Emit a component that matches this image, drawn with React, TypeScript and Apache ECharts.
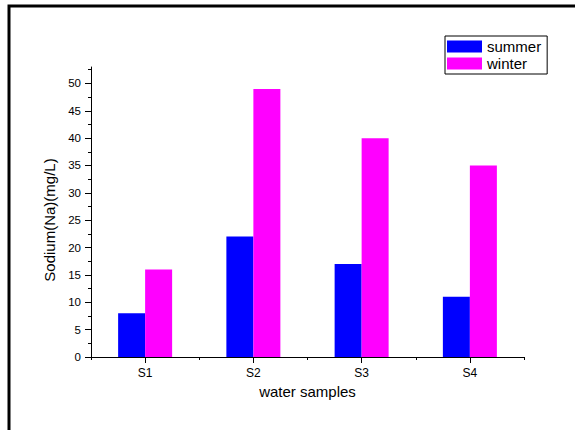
import React, { useEffect, useRef } from "react";
import * as echarts from "echarts";

const categories = ["S1", "S2", "S3", "S4"];
const summer = [8, 22, 17, 11];
const winter = [16, 49, 40, 35];
const majorTicks = [0, 5, 10, 15, 20, 25, 30, 35, 40, 45, 50];
const minorTicks = [2.5, 7.5, 12.5, 17.5, 22.5, 27.5, 32.5, 37.5, 42.5, 47.5, 52.5];

const FONT = "Liberation Sans";

export default function App() {
  const ref = useRef<HTMLDivElement>(null);
  useEffect(() => {
    if (!ref.current) return;
    const chart = echarts.init(ref.current, undefined, { renderer: "svg" });
    const axisLine = { show: true, lineStyle: { color: "#000", width: 1 } };
    chart.setOption({
      animation: false,
      backgroundColor: "#fff",
      textStyle: { fontFamily: FONT },
      graphic: [
        {
          type: "rect",
          shape: { x: 9, y: 6, width: 620, height: 500 },
          style: { fill: "none", stroke: "#000", lineWidth: 3 },
          silent: true,
        },
      ],
      legend: {
        orient: "vertical",
        left: 445,
        top: 36,
        padding: [3, 6, 3, 2],
        itemGap: 2,
        itemWidth: 35,
        itemHeight: 12,
        borderColor: "#000",
        borderWidth: 1,
        borderRadius: 0,
        icon: "rect",
        textStyle: { fontFamily: FONT, fontSize: 15, color: "#000" },
        data: ["summer", "winter"],
      },
      grid: { left: 91, right: 51, top: 67, bottom: 73 },
      xAxis: [
        {
          type: "category",
          data: categories,
          axisLine,
          axisTick: { show: true, alignWithLabel: true, length: 6, lineStyle: { color: "#000" } },
          axisLabel: { fontFamily: FONT, fontSize: 12, color: "#000", margin: 10 },
          name: "water samples",
          nameLocation: "middle",
          nameGap: 27,
          nameTextStyle: { fontFamily: FONT, fontSize: 15, color: "#000" },
          splitLine: { show: false },
        },
        {
          type: "category",
          data: categories,
          position: "bottom",
          axisLine: { show: false },
          axisTick: { show: true, alignWithLabel: false, length: 3, lineStyle: { color: "#000" } },
          axisLabel: { show: false },
          splitLine: { show: false },
        },
      ],
      yAxis: [
        {
          type: "value",
          min: 0,
          max: 53,
          axisLine,
          axisTick: { show: true, length: 6, customValues: majorTicks, lineStyle: { color: "#000" } },
          axisLabel: { fontFamily: FONT, fontSize: 11.5, color: "#000", margin: 10, customValues: majorTicks },
          splitLine: { show: false },
          name: "Sodium(Na)(mg/L)",
          nameLocation: "middle",
          nameGap: 33,
          nameTextStyle: { fontFamily: FONT, fontSize: 15, color: "#000", padding: [0, 16, 0, 0] },
        },
        {
          type: "value",
          min: 0,
          max: 53,
          position: "left",
          axisLine: { show: false },
          axisTick: { show: true, length: 3, customValues: minorTicks, lineStyle: { color: "#000" } },
          axisLabel: { show: false },
          splitLine: { show: false },
        },
      ],
      series: [
        {
          name: "summer",
          type: "bar",
          data: summer,
          barWidth: 27,
          barGap: "0%",
          itemStyle: { color: "#0000ff" },
        },
        {
          name: "winter",
          type: "bar",
          data: winter,
          barWidth: 27,
          barGap: "0%",
          itemStyle: { color: "#ff00ff" },
        },
      ],
    });
    return () => chart.dispose();
  }, []);
  return <div ref={ref} style={{ width: 575, height: 430, position: "absolute", left: 0, top: 0 }} />;
}
